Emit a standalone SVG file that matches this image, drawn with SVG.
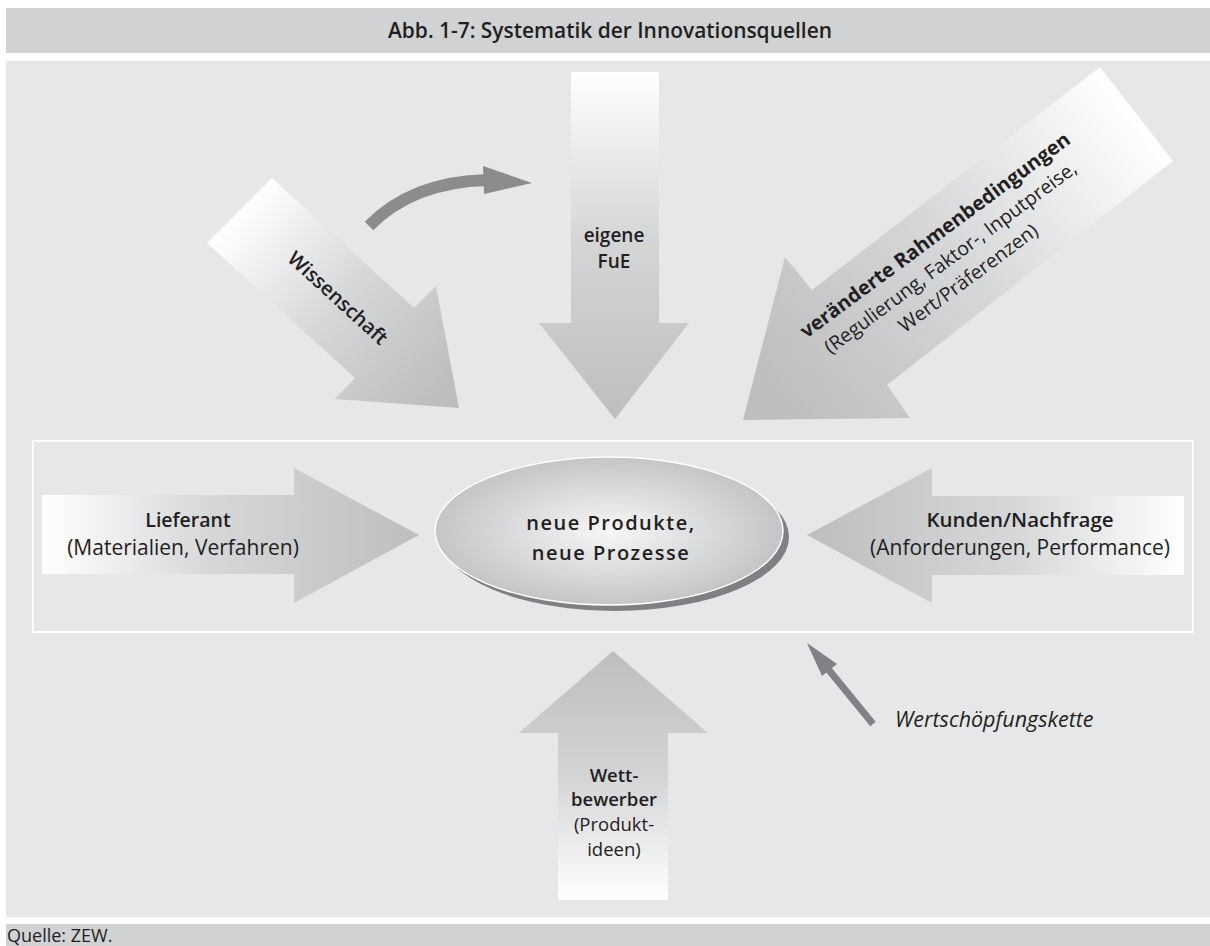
<svg xmlns="http://www.w3.org/2000/svg" width="1210" height="946" viewBox="0 0 1210 946">
<defs>
<style>
.t{font-family:"Open Sans","Noto Sans","Liberation Sans",sans-serif;fill:#231f20}
.b{font-weight:700}
.sb{font-weight:600}
.r{font-weight:400}
.m{text-anchor:middle}
</style>
<linearGradient id="gL" x1="42" y1="0" x2="419" y2="0" gradientUnits="userSpaceOnUse"><stop offset="0" stop-color="#ffffff"/><stop offset="0.45" stop-color="#d6d7d9"/><stop offset="1" stop-color="#bcbec0"/></linearGradient>
<linearGradient id="gK" x1="1184" y1="0" x2="807" y2="0" gradientUnits="userSpaceOnUse"><stop offset="0" stop-color="#ffffff"/><stop offset="0.45" stop-color="#d6d7d9"/><stop offset="1" stop-color="#bcbec0"/></linearGradient>
<linearGradient id="gF" x1="0" y1="72" x2="0" y2="419" gradientUnits="userSpaceOnUse"><stop offset="0" stop-color="#ffffff"/><stop offset="0.5" stop-color="#d3d4d6"/><stop offset="1" stop-color="#bcbec0"/></linearGradient>
<linearGradient id="gW" x1="0" y1="900" x2="0" y2="651" gradientUnits="userSpaceOnUse"><stop offset="0" stop-color="#ffffff"/><stop offset="0.5" stop-color="#d3d4d6"/><stop offset="1" stop-color="#bcbec0"/></linearGradient>
<linearGradient id="gS" x1="240" y1="210" x2="440" y2="390" gradientUnits="userSpaceOnUse"><stop offset="0" stop-color="#ffffff"/><stop offset="0.5" stop-color="#d6d7d9"/><stop offset="1" stop-color="#bcbec0"/></linearGradient>
<linearGradient id="gR" x1="1136" y1="114" x2="780" y2="400" gradientUnits="userSpaceOnUse"><stop offset="0" stop-color="#ffffff"/><stop offset="0.5" stop-color="#d6d7d9"/><stop offset="1" stop-color="#bcbec0"/></linearGradient>
<radialGradient id="gE" cx="0.5" cy="0.5" r="0.5"><stop offset="0" stop-color="#f7f7f8"/><stop offset="1" stop-color="#c4c5c7"/></radialGradient>
</defs>
<rect x="0" y="0" width="1210" height="946" fill="#ffffff"/>
<rect x="6" y="8" width="1204" height="45" fill="#d1d2d4"/>
<rect x="6" y="61" width="1204" height="856" fill="#e6e7e8"/>
<rect x="6" y="924" width="1204" height="22" fill="#d1d2d4"/>
<text class="t sb m" x="610" y="38" font-size="22" textLength="444" lengthAdjust="spacingAndGlyphs">Abb. 1-7: Systematik der Innovationsquellen</text>
<text class="t" x="7" y="942" font-size="18">Quelle: ZEW.</text>
<rect x="33" y="441" width="1160" height="191" fill="none" stroke="#ffffff" stroke-width="2"/>
<g id="connectors">
<path d="M369,226 Q412,182 487,180" fill="none" stroke="#8a8c8e" stroke-width="12"/>
<polygon points="483,166 532,183 484,194" fill="#8a8c8e"/>
<line x1="873" y1="724" x2="828" y2="669" stroke="#808285" stroke-width="7"/>
<polygon points="807,643 837,664 822,676" fill="#808285"/>
</g>
<g id="wissenschaft">
<polygon points="272,178 414,308 436,286 459,408 335,399 355,378 207,243" fill="url(#gS)"/>
<text class="t sb m" font-size="20" transform="translate(338,298) rotate(42.5)" y="7">Wissenschaft</text>
</g>
<g id="fue">
<polygon points="571,72 659,72 659,323 689,323 615,419 539,323 571,323" fill="url(#gF)"/>
<text class="t sb m" font-size="19"><tspan x="614" y="242">eigene</tspan><tspan x="614" y="268">FuE</tspan></text>
</g>
<g id="rahmen">
<polygon points="1100,67 1173,161 887,385 910,418 743,420 785,257 812,290" fill="url(#gR)"/>
<text class="t m" font-size="19.5" transform="translate(935,235) rotate(-36.5)"><tspan class="b" x="0" y="7" font-size="20">veränderte Rahmenbedingungen</tspan><tspan class="r" x="-1" y="34">(Regulierung, Faktor-, Inputpreise,</tspan><tspan class="r" x="1" y="61">Wert/Präferenzen)</tspan></text>
</g>
<g id="lieferant">
<polygon points="42,495 294,495 294,468 419,535 294,603 294,574 42,574" fill="url(#gL)"/>
<text class="t m" font-size="21"><tspan class="sb" x="188" y="527" font-size="19.5">Lieferant</tspan><tspan x="183" y="555">(Materialien, Verfahren)</tspan></text>
</g>
<g id="kunden">
<polygon points="1184,496 932,496 932,468 807,535 932,603 932,575 1184,575" fill="url(#gK)"/>
<text class="t m" font-size="21"><tspan class="sb" x="1020" y="527" font-size="20.5">Kunden/Nachfrage</tspan><tspan x="1020" y="555">(Anforderungen, Performance)</tspan></text>
</g>
<g id="zentrum">
<ellipse cx="615" cy="537" rx="174" ry="74" fill="#7f8083"/>
<ellipse cx="609" cy="531" rx="174" ry="74" fill="url(#gE)" stroke="#ffffff" stroke-width="1.5"/>
<text class="t sb m" font-size="20" letter-spacing="1.5"><tspan x="611" y="530">neue Produkte,</tspan><tspan x="611" y="560">neue Prozesse</tspan></text>
</g>
<g id="wettbewerber">
<polygon points="613,651 708,733 668,733 668,900 558,900 558,733 519,733" fill="url(#gW)"/>
<text class="t m" font-size="18.5"><tspan class="sb" x="614" y="782">Wett-</tspan><tspan class="sb" x="614" y="806">bewerber</tspan><tspan x="614" y="831">(Produkt-</tspan><tspan x="614" y="856">ideen)</tspan></text>
</g>
<g id="wertschoepfung">
<text class="t" font-size="21.5" font-style="italic" x="895" y="727">Wertschöpfungskette</text>
</g>
</svg>
